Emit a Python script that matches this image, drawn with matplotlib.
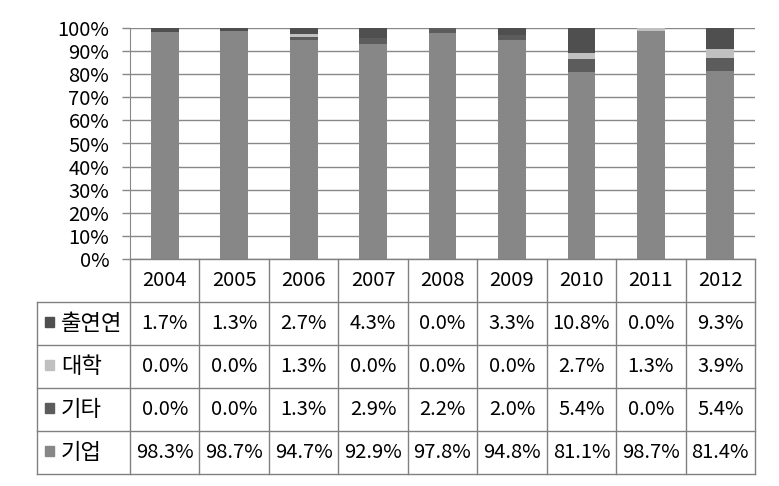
import matplotlib
matplotlib.use("Agg")
import matplotlib.pyplot as plt
import matplotlib.transforms as mtransforms
import numpy as np

plt.rcParams['font.family'] = ['Noto Sans CJK KR', 'DejaVu Sans']

years = ['2004', '2005', '2006', '2007', '2008', '2009', '2010', '2011', '2012']
series_names = ['출연연', '대학', '기타', '기업']
gieop = [98.3, 98.7, 94.7, 92.9, 97.8, 94.8, 81.1, 98.7, 81.4]
gita = [0.0, 0.0, 1.3, 2.9, 2.2, 2.0, 5.4, 0.0, 5.4]
daehak = [0.0, 0.0, 1.3, 0.0, 0.0, 0.0, 2.7, 1.3, 3.9]
chulyeon = [1.7, 1.3, 2.7, 4.3, 0.0, 3.3, 10.8, 0.0, 9.3]
yticks = [0, 10, 20, 30, 40, 50, 60, 70, 80, 90, 100]

colors = {'기업': '#878787', '기타': '#5c5c5c', '대학': '#c0c0c0', '출연연': '#4f4f4f'}
values = {'기업': gieop, '기타': gita, '대학': daehak, '출연연': chulyeon}

W, H = 779, 486
fig = plt.figure(figsize=(W / 100, H / 100), dpi=100)
ax = fig.add_axes([130 / W, (H - 259) / H, 625 / W, 231 / H])

x = np.arange(len(years))
bottom = np.zeros(len(years))
for name in ['기업', '기타', '대학', '출연연']:
    v = np.array(values[name])
    ax.bar(x, v, bottom=bottom, width=0.4, color=colors[name], zorder=3, linewidth=0)
    bottom += v

FS = 14.5
ax.set_xlim(-0.5, len(years) - 0.5)
ax.set_ylim(0, 100)
ax.set_yticks(yticks)
ax.set_yticklabels([f'{t}%' for t in yticks], fontsize=FS)
ax.tick_params(axis='y', length=6, width=1, color='#888888', pad=9)
ax.set_xticks([])
ax.grid(axis='y', color='#888888', linewidth=1, zorder=0)
for s in ['top', 'right', 'bottom']:
    ax.spines[s].set_visible(False)
ax.spines['left'].set_color('#888888')

# Data table drawn below the axes
gcol = '#808080'
row_h = 43 / 231  # in axes fraction
px_x = 625 / len(years)
label_w = 93 / px_x  # data units
trans = mtransforms.blended_transform_factory(ax.transData, ax.transAxes)
n = len(years)
x_left_tab = -0.5
x_right_tab = n - 0.5
x_label_left = x_left_tab - label_w

def hline(x0, x1, y):
    ax.plot([x0, x1], [y, y], transform=trans, color=gcol, lw=1, clip_on=False, zorder=5)

def vline(xx, y0, y1):
    ax.plot([xx, xx], [y0, y1], transform=trans, color=gcol, lw=1, clip_on=False, zorder=5)

y_top = 0
y_hdr_bot = -row_h
y_bottom = -5 * row_h
for i in range(n + 1):
    vline(-0.5 + i, y_top, y_bottom)
vline(x_label_left, y_hdr_bot, y_bottom)
hline(x_left_tab, x_right_tab, 0)
for r in range(1, 6):
    hline(x_label_left, x_right_tab, -r * row_h)

for i, yr in enumerate(years):
    ax.text(i, -0.5 * row_h, yr, transform=trans, ha='center', va='center', fontsize=FS, clip_on=False)

for r, name in enumerate(series_names):
    yc = -(r + 1.5) * row_h
    sq_x = x_label_left + 8 / px_x
    ax.add_patch(plt.Rectangle((sq_x, yc - 3 / 231), 9 / px_x, 10 / 231, transform=trans,
                               color=colors[name], clip_on=False, zorder=6))
    ax.text(sq_x + 16 / px_x, yc, name, transform=trans, ha='left', va='center', fontsize=16, clip_on=False)
    for i in range(n):
        ax.text(i, yc, f'{values[name][i]:.1f}%', transform=trans, ha='center', va='center',
                fontsize=FS, clip_on=False)

fig.savefig('out.png', dpi=100)
